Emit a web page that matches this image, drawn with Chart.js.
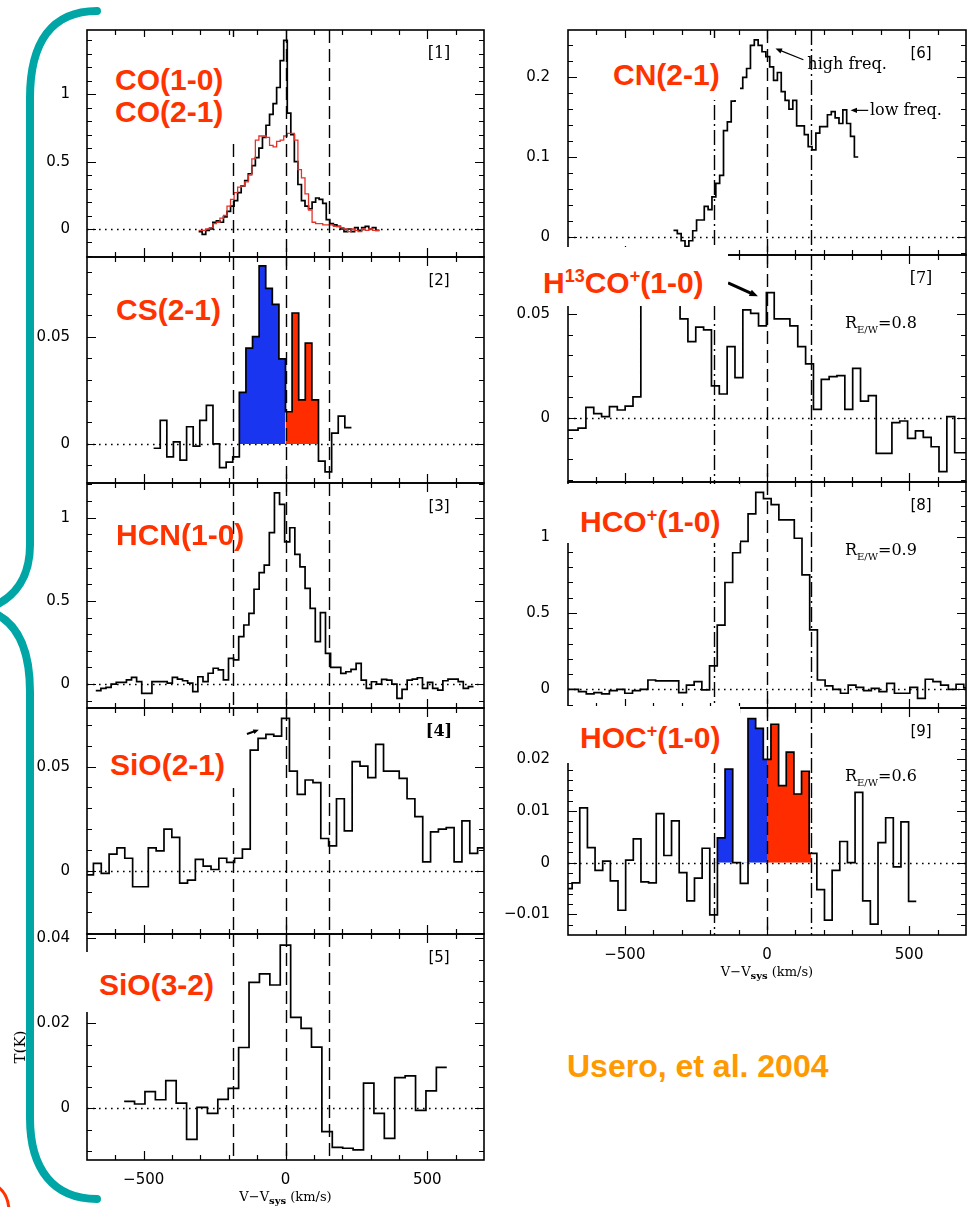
<!DOCTYPE html>
<html>
<head>
<meta charset="utf-8">
<script src="https://cdn.jsdelivr.net/npm/chart.js@4.4.1/dist/chart.umd.min.js"></script>
<style>
  html, body { margin: 0; padding: 0; background: #fff; }
  #page { position: relative; width: 972px; height: 1207px; overflow: hidden; background: #fff; }
  #page canvas { position: absolute; }
  .mask { position: absolute; background: #fff; z-index: 2; }
  .tag { position: absolute; z-index: 3; font: bold 30px "Liberation Sans", Arial, sans-serif; color: #ff3300;
         line-height: 30px; white-space: nowrap; }
  .tag sup { font-size: 0.6em; line-height: 0; vertical-align: 0.62em; }
  #cite { position: absolute; z-index: 3; left: 567px; top: 1050px; font: bold 32px "Liberation Sans", Arial, sans-serif;
          color: #ff9900; line-height: 32px; white-space: nowrap; }
  #tk { position: absolute; z-index: 3; left: 20px; top: 1047px; font: 15px "DejaVu Serif", serif;
        transform: translate(-50%, -50%) rotate(-90deg); white-space: nowrap; }
  #deco { position: absolute; left: 0; top: 0; z-index: 4; }
</style>
</head>
<body>
<div id="page">
  <svg id="deco" width="972" height="1207">
    <path d="M 97 11 C 52 11, 30 42, 30 98 L 30 545 C 30 576, 16 596, -6 606" fill="none" stroke="#00a6a6" stroke-width="8" stroke-linecap="round"/>
    <path d="M -6 613 C 16 623, 30 646, 30 692 L 30 1118 C 30 1170, 54 1199, 97 1199" fill="none" stroke="#00a6a6" stroke-width="8" stroke-linecap="round"/>
    <path d="M -2 1187 Q 8 1194 9 1210" fill="none" stroke="#ff3300" stroke-width="3"/>
  </svg>
  <div id="tk">T(K)</div>
  <div id="cite">Usero, et al. 2004</div>
</div>
<script>
// velocity axis (km/s) and marker lines
const velRange = [-700, 700];
const velTicks = [-500, 0, 500];
const markerLines = [-185, 0, 155];
const blueWing = [-185, 0];
const redWing = [0, 155];

// y tick values per panel
const ticksCO = [0, 0.5, 1];
const ticksCS = [0, 0.05];
const ticksHCN = [0, 0.5, 1];
const ticksSiO21 = [0, 0.05];
const ticksSiO32 = [0, 0.02, 0.04];
const ticksCN = [0, 0.1, 0.2];
const ticksH13 = [0, 0.05];
const ticksHCO = [0, 0.5, 1];
const ticksHOC = [-0.01, 0, 0.01, 0.02];

// spectra: first channel edge, channel width (km/s), brightness per channel (K)
const coStart = -306.25, coWidth = 12.5;
const co10 = [-0.02, -0.04, -0.01, 0.0, 0.05, 0.06, 0.05, 0.09, 0.13, 0.17, 0.21, 0.27, 0.32, 0.36, 0.41, 0.47,
  0.53, 0.6, 0.68, 0.77, 0.85, 0.93, 1.05, 1.25, 1.4, 0.86, 0.7, 0.5, 0.33, 0.21, 0.17, 0.15, 0.2, 0.23, 0.22,
  0.19, 0.07, 0.04, 0.03, 0.02, 0.0, -0.02, 0.0, -0.02, 0.01, -0.01, 0.01, 0.02, 0.0, 0.01, -0.01];
const co21 = [-0.01, -0.01, 0.0, 0.01, 0.04, 0.05, 0.08, 0.1, 0.17, 0.22, 0.27, 0.31, 0.32, 0.35, 0.4, 0.52,
  0.66, 0.69, 0.69, 0.68, 0.62, 0.61, 0.65, 0.66, 0.69, 0.71, 0.71, 0.66, 0.44, 0.38, 0.26, 0.14, 0.05, 0.04,
  0.04, 0.03, 0.03, 0.03, 0.02, 0.02, 0.01, 0.0, -0.02, 0.0, -0.01, -0.02, 0.0, -0.01, 0.0, -0.01, -0.01];

const csStart = -465, csWidth = 23.25;
const cs21 = [-0.002, 0.011, -0.006, 0.001, -0.0075, 0.008, -0.001, 0.011, 0.018, 0.0, -0.011, -0.0085, -0.006,
  0.024, 0.0446, 0.05, 0.083, 0.0725, 0.065, 0.0396, 0.015, 0.061, 0.0205, 0.047, 0.0205, -0.008, -0.013,
  0.005, 0.013, 0.0076];

const hcnStart = -669, hcnWidth = 18;
const hcn10 = [-0.04, -0.026, -0.02, 0.0, 0.01, 0.01, 0.025, 0.04, 0.015, -0.056, -0.056, 0.015, 0.015, 0.015,
  0.005, 0.04, 0.03, 0.02, 0.005, -0.046, 0.044, 0.015, 0.065, 0.095, 0.085, 0.025, 0.155, 0.145, 0.285, 0.355,
  0.425, 0.57, 0.67, 0.715, 0.91, 1.15, 1.08, 0.855, 0.94, 0.78, 0.705, 0.575, 0.455, 0.255, 0.43, 0.185, 0.1,
  0.1, 0.064, 0.074, 0.088, 0.124, 0.024, -0.026, 0.014, 0.0, 0.028, 0.024, 0.0, -0.086, -0.032, 0.024, 0.03,
  0.038, -0.026, 0.01, -0.026, -0.036, 0.02, 0.03, 0.03, 0.015, -0.026, -0.015];

const sio21Start = -705, sio21Width = 27.65;
const sio21 = [-0.002, 0.0035, -0.0013, 0.008, 0.011, 0.006, -0.0077, -0.0077, 0.011, 0.0095, 0.02, 0.016,
  -0.006, -0.0045, 0.0055, 0.0022, 0.0006, 0.006, 0.004, 0.006, 0.0104, 0.058, 0.0636, 0.0655, 0.0647, 0.0732,
  0.0479, 0.0367, 0.0436, 0.0423, 0.0155, 0.0119, 0.0346, 0.0192, 0.0524, 0.0503, 0.0447, 0.0607, 0.0479,
  0.0479, 0.0444, 0.0346, 0.026, 0.0043, 0.0187, 0.02, 0.0207, 0.0043, 0.024, 0.0083, 0.011];

const sio32Start = -569, sio32Width = 36.7;
const sio32 = [0.0016, 0.001, 0.0039, 0.002, 0.0065, 0.0012, -0.0073, 0.0002, -0.0012, 0.0021, 0.0047, 0.0143,
  0.0296, 0.0316, 0.029, 0.0384, 0.0214, 0.0188, 0.0144, -0.0055, -0.0092, -0.0094, -0.0098, 0.0059, -0.0012,
  -0.0071, 0.0072, 0.0076, -0.0005, 0.0041, 0.0096];

const cnStart = -329, cnWidth = 13.54;
const cn21 = [0.008, 0.004, -0.005, -0.012, -0.005, 0.0075, 0.021, 0.021, 0.038, 0.034, 0.05, 0.067, 0.077,
  0.133, 0.144, 0.17, 0.178, 0.186, 0.2, 0.211, 0.24, 0.247, 0.24, 0.232, 0.226, 0.213, 0.196, 0.206, 0.182,
  0.171, 0.16, 0.171, 0.139, 0.139, 0.128, 0.113, 0.109, 0.13, 0.138, 0.138, 0.153, 0.157, 0.149, 0.142,
  0.159, 0.142, 0.126, 0.1];

const h13Start = -747.4, h13Width = 27.6;
const h13co = [-0.006, -0.006, -0.006, -0.005, 0.005, 0.002, 0.0005, 0.0053, 0.0037, 0.0056, 0.010, 0.058,
  0.0636, 0.0655, 0.0647, 0.0732, 0.0476, 0.0367, 0.0436, 0.0423, 0.0153, 0.0114, 0.0342, 0.0193, 0.052,
  0.0503, 0.0442, 0.0603, 0.0476, 0.0476, 0.0442, 0.0342, 0.0259, 0.004, 0.0185, 0.0198, 0.0203, 0.004,
  0.0238, 0.008, 0.0106, -0.0172, -0.0172, -0.0024, -0.0016, -0.01, -0.0064, -0.0095, -0.014, -0.026, 0.0005,
  -0.0169, -0.0169];

const hcoStart = -717, hcoWidth = 27.1;
const hco10 = [0, 0, -0.015, -0.03, -0.022, -0.03, -0.009, 0, -0.026, -0.009, 0, 0.061, 0.055, 0.055, 0.055,
  -0.022, 0.028, 0.05, -0.004, 0.153, 0.42, 0.7, 0.895, 0.97, 1.15, 1.29, 1.25, 1.21, 1.11, 1.11, 0.99, 0.75,
  0.39, 0.061, 0.022, 0, -0.026, 0.028, 0.013, -0.009, 0.006, -0.015, 0.039, -0.026, -0.026, 0.013, -0.06,
  0.066, 0.05, 0.028, 0, 0.033, 0.01];

const hocStart = -712.4, hocWidth = 26.9;
const hoc10 = [-0.005, -0.0039, 0.0106, 0.0029, -0.0015, 0.0003, -0.0035, -0.0092, 0.0005, 0.0046, -0.0037,
  -0.0039, 0.0095, 0.0014, 0.0081, -0.0019, -0.0074, -0.003, 0.0028, -0.0101, 0.0048, 0.0181, 0.0, -0.004,
  0.0279, 0.026, 0.02, 0.0268, 0.0149, 0.0214, 0.0133, 0.0177, 0.0018, -0.0052, -0.0111, -0.0015, 0.0041, 0.0,
  0.0136, -0.0074, -0.0119, 0.0039, 0.0087, -0.0008, 0.0079, -0.0075];

const blueFill = '#1a35f0';
const redFill = '#ff2c00';

Chart.defaults.font.family = '"DejaVu Sans", sans-serif';
Chart.defaults.color = '#000';

const fmt = v => (v < 0 ? '\u2212' : '') + String(Math.abs(v));

// histogram outline: one flat segment per channel, optionally cut to a velocity window
function channelSteps(start, width, vals, lo = -Infinity, hi = Infinity) {
  const pts = [];
  vals.forEach((t, i) => {
    const a = Math.max(start + i * width, lo), b = Math.min(start + (i + 1) * width, hi);
    if (b > a) pts.push({x: a, y: t}, {x: b, y: t});
  });
  return pts;
}

function arrow(ctx, x0, y0, x1, y1, lw, head) {
  const ang = Math.atan2(y1 - y0, x1 - x0);
  ctx.lineWidth = lw;
  ctx.beginPath(); ctx.moveTo(x0, y0); ctx.lineTo(x1 - Math.cos(ang) * head * 0.6, y1 - Math.sin(ang) * head * 0.6); ctx.stroke();
  ctx.beginPath();
  ctx.moveTo(x1, y1);
  ctx.lineTo(x1 - head * Math.cos(ang - 0.4), y1 - head * Math.sin(ang - 0.4));
  ctx.lineTo(x1 - head * Math.cos(ang + 0.4), y1 - head * Math.sin(ang + 0.4));
  ctx.closePath(); ctx.fill();
}

// no room reserved for label overhang: the frame sits exactly on the layout padding
const noOverhang = s => { s.paddingTop = 0; s.paddingBottom = 0; s.paddingLeft = 0; s.paddingRight = 0; };

const panelDecor = {
  id: 'panelDecor',
  beforeDatasetsDraw(chart, args, o) {
    const {ctx, chartArea: a, scales: {y}} = chart;
    const y0 = Math.round(y.getPixelForValue(0)) + 0.5;
    ctx.save();
    ctx.strokeStyle = '#000'; ctx.lineWidth = 1.4; ctx.setLineDash([1.6, 4.4]);
    ctx.beginPath(); ctx.moveTo(a.left, y0); ctx.lineTo(a.right, y0); ctx.stroke();
    ctx.restore();
  },
  afterDatasetsDraw(chart, args, o) {
    const {ctx, chartArea: a, scales: {x, y}} = chart;
    ctx.save();
    ctx.strokeStyle = '#000'; ctx.fillStyle = '#000';
    ctx.lineWidth = 1.4;
    markerLines.forEach(v => {
      const px = Math.round(x.getPixelForValue(v)) + 0.5;
      ctx.setLineDash(v !== 0 && o.dashDot ? [15, 4, 2, 4] : [13, 6]);
      ctx.beginPath(); ctx.moveTo(px, a.top); ctx.lineTo(px, a.bottom); ctx.stroke();
    });
    ctx.setLineDash([]);
    ctx.lineWidth = 1.6;
    ctx.strokeRect(a.left, a.top, a.right - a.left, a.bottom - a.top);
    ctx.lineWidth = 1.2;
    ctx.beginPath();
    for (let v = -600; v <= 600; v += 100) {
      const px = Math.round(x.getPixelForValue(v)) + 0.5, len = v % 500 === 0 ? 9 : 5;
      ctx.moveTo(px, a.bottom); ctx.lineTo(px, a.bottom - len);
      ctx.moveTo(px, a.top); ctx.lineTo(px, a.top + len);
    }
    const k0 = Math.ceil(y.min / o.minor - 1e-6), k1 = Math.floor(y.max / o.minor + 1e-6);
    for (let k = k0; k <= k1; k++) {
      const v = k * o.minor, py = Math.round(y.getPixelForValue(v)) + 0.5;
      const len = Math.abs(v / o.major - Math.round(v / o.major)) < 1e-6 ? 9 : 5;
      ctx.moveTo(a.left, py); ctx.lineTo(a.left + len, py);
      ctx.moveTo(a.right, py); ctx.lineTo(a.right - len, py);
    }
    ctx.stroke();
    ctx.restore();
  },
  afterDraw(chart, args, o) {
    const {ctx, chartArea: a, scales: {x, y}} = chart;
    ctx.save();
    ctx.fillStyle = '#000'; ctx.strokeStyle = '#000';
    ctx.font = o.tagFont;
    ctx.textAlign = 'center'; ctx.textBaseline = 'middle';
    ctx.fillText(o.tag, a.right - 45, a.top + 24);
    ctx.textAlign = 'left'; ctx.textBaseline = 'alphabetic';
    if (o.ratio) {
      let px = a.left + 277;
      const py = a.top + 73;
      ctx.font = '16px "DejaVu Serif"'; ctx.fillText('R', px, py); px += ctx.measureText('R').width;
      ctx.font = '10px "DejaVu Serif"'; ctx.fillText('E/W', px, py + 5); px += ctx.measureText('E/W').width;
      ctx.font = '16px "DejaVu Serif"'; ctx.fillText('=' + o.ratio, px, py);
    }
    (o.notes || []).forEach(n => {
      ctx.font = '16px "DejaVu Serif"';
      ctx.fillText(n.text, x.getPixelForValue(n.at[0]), y.getPixelForValue(n.at[1]));
    });
    (o.arrows || []).forEach(r => {
      arrow(ctx, x.getPixelForValue(r.from[0]), y.getPixelForValue(r.from[1]),
        x.getPixelForValue(r.to[0]), y.getPixelForValue(r.to[1]), r.lw, r.head);
    });
    if (o.axisTitle) {
      const parts = [['V\u2212V', '13px "DejaVu Serif"', 0], ['sys', 'bold 10px "DejaVu Serif"', 3],
        [' (km/s)', '13px "DejaVu Serif"', 0]];
      let total = 0;
      parts.forEach(p => { ctx.font = p[1]; total += ctx.measureText(p[0]).width; });
      let px = x.getPixelForValue(0) - total / 2;
      const py = a.bottom + 41;
      parts.forEach(p => { ctx.font = p[1]; ctx.fillText(p[0], px, py + p[2]); px += ctx.measureText(p[0]).width; });
    }
    ctx.restore();
  }
};

const panels = [
  {frame: [87, 30, 484, 257], yRange: [-0.208, 1.477], yTicks: ticksCO, minor: 0.1, major: 0.5, tag: '[1]',
   tagFont: '16px "DejaVu Serif"',
   spectra: [{start: coStart, width: coWidth, vals: co21, color: '#e2332a', lw: 1.3},
             {start: coStart, width: coWidth, vals: co10, color: '#000'}]},
  {frame: [87, 257, 484, 483], yRange: [-0.0182, 0.0871], yTicks: ticksCS, minor: 0.01, major: 0.05, tag: '[2]',
   wings: true, spectra: [{start: csStart, width: csWidth, vals: cs21, color: '#000'}]},
  {frame: [87, 483, 484, 708], yRange: [-0.144, 1.209], yTicks: ticksHCN, minor: 0.1, major: 0.5, tag: '[3]',
   spectra: [{start: hcnStart, width: hcnWidth, vals: hcn10, color: '#000'}]},
  {frame: [87, 708, 484, 934], yRange: [-0.0304, 0.0782], yTicks: ticksSiO21, minor: 0.01, major: 0.05, tag: '[4]',
   tagFont: 'bold 16px "DejaVu Serif"',
   arrows: [{from: [-136, 0.0657], to: [-94, 0.0677], lw: 2, head: 6}],
   spectra: [{start: sio21Start, width: sio21Width, vals: sio21, color: '#000'}]},
  {frame: [87, 934, 484, 1160], yRange: [-0.01217, 0.041], yTicks: ticksSiO32, minor: 0.005, major: 0.02, tag: '[5]',
   axisTitle: true, spectra: [{start: sio32Start, width: sio32Width, vals: sio32, color: '#000'}]},
  {frame: [568, 30, 966, 255], yRange: [-0.0229, 0.2593], yTicks: ticksCN, minor: 0.02, major: 0.1, tag: '[6]',
   dashDot: true,
   notes: [{text: 'high freq.', at: [142, 0.211]}, {text: 'low freq.', at: [362, 0.1525]}],
   arrows: [{from: [128, 0.222], to: [30, 0.236], lw: 1.2, head: 7}, {from: [356, 0.1585], to: [294, 0.1585], lw: 1.2, head: 7}],
   spectra: [{start: cnStart, width: cnWidth, vals: cn21, color: '#000'}]},
  {frame: [568, 255, 966, 482], yRange: [-0.031, 0.0784], yTicks: ticksH13, minor: 0.01, major: 0.05, tag: '[7]',
   tagFont: '16px "DejaVu Serif"', dashDot: true, ratio: '0.8',
   arrows: [{from: [-137, 0.065], to: [-32, 0.0585], lw: 3, head: 9}],
   spectra: [{start: h13Start, width: h13Width, vals: h13co, color: '#000'}]},
  {frame: [568, 482, 966, 708], yRange: [-0.1225, 1.3585], yTicks: ticksHCO, minor: 0.1, major: 0.5, tag: '[8]',
   dashDot: true, ratio: '0.9',
   spectra: [{start: hcoStart, width: hcoWidth, vals: hco10, color: '#000'}]},
  {frame: [568, 708, 966, 935], yRange: [-0.01399, 0.02994], yTicks: ticksHOC, minor: 0.002, major: 0.01, tag: '[9]',
   dashDot: true, ratio: '0.6', wings: true, axisTitle: true,
   spectra: [{start: hocStart, width: hocWidth, vals: hoc10, color: '#000'}]}
];

const page = document.getElementById('page');

function buildPanel(p) {
  const [fl, ft, fr, fb] = p.frame;
  const padT = 6, padR = 6, yW = 80;
  const xH = p.axisTitle ? 52 : 0, padB = p.axisTitle ? 0 : 6;
  const w = yW + (fr - fl) + padR, h = padT + (fb - ft) + xH + padB;
  const canvas = document.createElement('canvas');
  canvas.width = w; canvas.height = h;
  canvas.style.left = (fl - yW) + 'px'; canvas.style.top = (ft - padT) + 'px';
  canvas.style.width = w + 'px'; canvas.style.height = h + 'px';
  page.appendChild(canvas);

  const datasets = p.spectra.map(s => ({
    data: channelSteps(s.start, s.width, s.vals),
    borderColor: s.color, borderWidth: s.lw || 1.7, pointRadius: 0, tension: 0, fill: false,
    borderJoinStyle: 'miter', clip: 0
  }));
  if (p.wings) {
    const s = p.spectra[0];
    [[blueWing, blueFill], [redWing, redFill]].forEach(([win, col]) => {
      datasets.push({
        data: channelSteps(s.start, s.width, s.vals, win[0], win[1]),
        borderWidth: 0, borderColor: 'rgba(0,0,0,0)', pointRadius: 0, tension: 0, clip: 0,
        fill: {target: 'origin', above: col, below: 'rgba(0,0,0,0)'}
      });
    });
  }

  new Chart(canvas.getContext('2d'), {
    type: 'line',
    data: {datasets},
    options: {
      responsive: false, animation: false, devicePixelRatio: 1,
      layout: {padding: {top: padT, right: padR, bottom: padB, left: 0}},
      plugins: {
        legend: {display: false}, tooltip: {enabled: false},
        panelDecor: {
          minor: p.minor, major: p.major, tag: p.tag, tagFont: p.tagFont || '15px "DejaVu Sans"',
          dashDot: !!p.dashDot, ratio: p.ratio, notes: p.notes, arrows: p.arrows, axisTitle: !!p.axisTitle
        }
      },
      scales: {
        x: {
          type: 'linear', min: velRange[0], max: velRange[1], bounds: 'data',
          grid: {display: false}, border: {display: false},
          afterFit: s => { s.height = xH; noOverhang(s); },
          afterBuildTicks: s => { s.ticks = velTicks.map(v => ({value: v})); },
          ticks: {display: !!p.axisTitle, autoSkip: false, maxRotation: 0, padding: 3,
                  font: {size: 15}, callback: v => fmt(v)}
        },
        y: {
          type: 'linear', min: p.yRange[0], max: p.yRange[1], bounds: 'data',
          grid: {display: false}, border: {display: false},
          afterFit: s => { s.width = yW; noOverhang(s); },
          afterBuildTicks: s => { s.ticks = p.yTicks.map(v => ({value: v})); },
          ticks: {autoSkip: false, padding: fl < 300 ? 9 : 10, font: {size: 15}, callback: v => fmt(v)}
        }
      }
    },
    plugins: [panelDecor]
  });
}

panels.forEach(buildPanel);

// white label patches and line names laid over the panels
const masks = [
  [98, 37, 243, 142], [98, 262, 231, 331], [98, 490, 231, 560], [98, 716, 245, 788], [84, 952, 231, 1012],
  [598, 38, 740, 100], [540, 247, 728, 306], [566, 484, 740, 543], [566, 706, 740, 763]
];
masks.forEach(([l, t, r, b]) => {
  const d = document.createElement('div');
  d.className = 'mask';
  Object.assign(d.style, {left: l + 'px', top: t + 'px', width: (r - l) + 'px', height: (b - t) + 'px'});
  page.appendChild(d);
});

const lineNames = [
  ['CO(1-0)', 115, 90], ['CO(2-1)', 115, 122], ['CS(2-1)', 116, 320], ['HCN(1-0)', 116, 545],
  ['SiO(2-1)', 110, 775], ['SiO(3-2)', 99, 995], ['CN(2-1)', 613, 85],
  ['H<sup>13</sup>CO<sup>+</sup>(1-0)', 543, 293], ['HCO<sup>+</sup>(1-0)', 580, 532], ['HOC<sup>+</sup>(1-0)', 580, 748]
];
lineNames.forEach(([html, l, base]) => {
  const d = document.createElement('div');
  d.className = 'tag';
  d.innerHTML = html;
  Object.assign(d.style, {left: l + 'px', top: (base - 25.4) + 'px'});
  page.appendChild(d);
});
</script>
</body>
</html>
